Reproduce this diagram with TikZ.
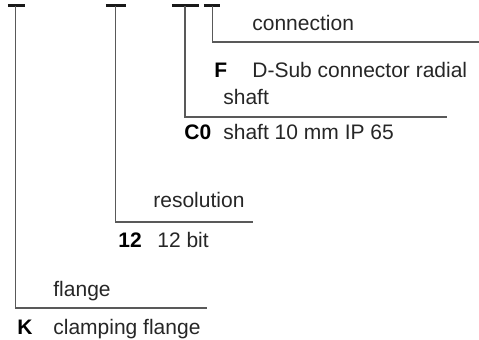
\documentclass[tikz,border=0pt]{standalone}
\usepackage{fontspec}
\setmainfont{Liberation Sans}
\begin{document}
\begin{tikzpicture}[x=0.5pt,y=-0.5pt,
    every node/.style={inner sep=0pt,anchor=base west,text=black!85,
      font=\fontsize{10.5}{12}\selectfont},
    key/.style={font=\fontsize{10.5}{12}\selectfont\bfseries,text=black},
    bar/.style={line width=1.5pt,black!90},
    rule/.style={line width=0.55pt,black!65}]
    \useasboundingbox (0,0) rectangle (479,340);
    \path
    (15.7,6) coordinate (flange)
    (115.7,6) coordinate (res)
    (185,6) coordinate (shaft)
    (212.7,6) coordinate (conn)
    (207,308) coordinate (flange end)
    (253,222) coordinate (res end)
    (447,117) coordinate (shaft end)
    (479,42) coordinate (conn end)
    ;
    % bars of the type code
    \foreach \a/\b in {8/25,106/126,172/199,204/220}\draw[bar] (\a,6)--(\b,6);
    \foreach \c in {flange,res,shaft,conn}\draw[rule] (\c) |- (\c\space end);
    % connection
    \node (conn head) at (252,31) {connection};
    \node[key] (conn F) at (214,78) {F};
    \node (conn F text) at (252,78) {D-Sub connector radial};
    % shaft
    \node (shaft head) at (223,105) {shaft};
    \node[key] (shaft C0) at (184,140) {C0};
    \node (shaft C0 text) at (223,140) {shaft 10 mm IP 65};
    % resolution
    \node (res head) at (153,208) {resolution};
    \node[key] (res 12) at (118,248) {12};
    \node (res 12 text) at (157,248) {12 bit};
    % flange
    \node (flange head) at (53,297) {flange};
    \node[key] (flange K) at (17,335) {K};
    \node (flange K text) at (53,335) {clamping flange};
\end{tikzpicture}
\end{document}
